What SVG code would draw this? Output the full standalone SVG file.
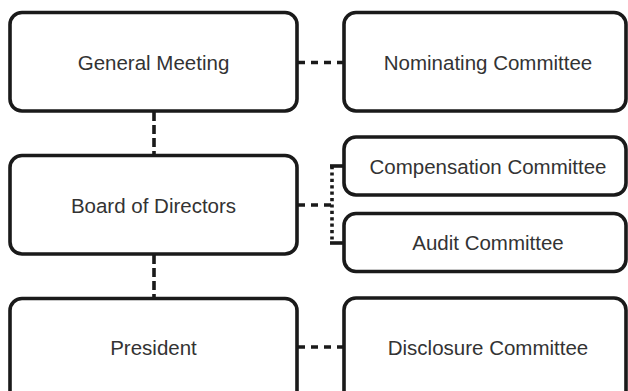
<svg xmlns="http://www.w3.org/2000/svg" width="628" height="391" viewBox="0 0 628 391">
<style>
.box{fill:#fff;stroke:#1a1a1a;stroke-width:3.6}
.lbl{font-family:"Liberation Sans",Arial,sans-serif;font-size:20.5px;fill:#333;text-anchor:middle;dominant-baseline:central}
.h{fill:none;stroke:#1a1a1a;stroke-width:3.6;stroke-dasharray:7 6}
.v{fill:none;stroke:#1a1a1a;stroke-width:3.6;stroke-dasharray:9 4}
.dot{fill:none;stroke:#1a1a1a;stroke-width:3.6;stroke-dasharray:3.2 3.2}
.s{fill:none;stroke:#1a1a1a;stroke-width:3.6}
</style>
<rect width="628" height="391" fill="#fff"/>
<g id="connectors">
<line class="h" x1="298" y1="62.5" x2="343" y2="62.5"/>
<line class="v" x1="154" y1="112" x2="154" y2="155"/>
<line class="v" x1="154" y1="255" x2="154" y2="298"/>
<line class="h" x1="298" y1="205" x2="332" y2="205"/>
<line class="dot" x1="332" y1="166" x2="332" y2="243"/>
<line class="s" x1="330" y1="166" x2="343" y2="166"/>
<line class="s" x1="330" y1="243" x2="343" y2="243"/>
<line class="h" x1="298" y1="347" x2="343" y2="347"/>
</g>
<g id="general-meeting">
<rect class="box" x="10" y="12.5" width="287" height="98.5" rx="12"/>
<text class="lbl" x="153.5" y="62">General Meeting</text>
</g>
<g id="nominating-committee">
<rect class="box" x="344" y="12.5" width="282" height="98.5" rx="12"/>
<text class="lbl" x="488" y="62">Nominating Committee</text>
</g>
<g id="board-of-directors">
<rect class="box" x="10" y="155.5" width="287" height="98.5" rx="12"/>
<text class="lbl" x="153.5" y="205">Board of Directors</text>
</g>
<g id="compensation-committee">
<rect class="box" x="344" y="137" width="282" height="58" rx="12"/>
<text class="lbl" x="488" y="166">Compensation Committee</text>
</g>
<g id="audit-committee">
<rect class="box" x="344" y="213.5" width="282" height="58" rx="12"/>
<text class="lbl" x="488" y="242.5">Audit Committee</text>
</g>
<g id="president">
<rect class="box" x="10" y="298.5" width="287" height="110" rx="12"/>
<text class="lbl" x="153.5" y="347">President</text>
</g>
<g id="disclosure-committee">
<rect class="box" x="344" y="298" width="282" height="110" rx="12"/>
<text class="lbl" x="488" y="347">Disclosure Committee</text>
</g>
</svg>
